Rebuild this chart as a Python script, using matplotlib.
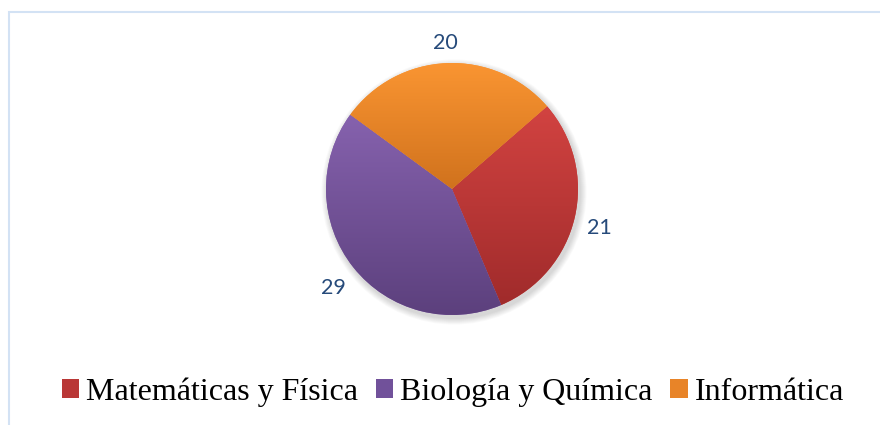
import matplotlib

matplotlib.use("Agg")
import matplotlib.pyplot as plt
import matplotlib.transforms as mtransforms
import numpy as np
from matplotlib.colors import LinearSegmentedColormap
from matplotlib.patches import Circle, Rectangle

categories = ["Matemáticas y Física", "Biología y Química", "Informática"]
values = [21, 29, 20]
top_colors = ["#D24341", "#8662AE", "#FA9532"]
bottom_colors = ["#A02B2B", "#5C407D", "#D0721D"]

W, H = 880, 425
CX, CY, R = 452, H - 189, 126

fig = plt.figure(figsize=(W / 100, H / 100), dpi=100)
ax = fig.add_axes([0, 0, 1, 1])

# faint shadow under the pie
for k in range(8):
    ax.add_patch(Circle((CX + 2, CY - 3), R + 1 + k * 0.8, color="#000000", alpha=0.02, lw=0, zorder=0))

wedges, _, autotexts = ax.pie(
    values,
    center=(CX, CY),
    radius=R,
    startangle=41,
    counterclock=False,
    colors=top_colors,
    autopct=lambda p: f"{round(p * sum(values) / 100):d}",
    pctdistance=1.2,
    wedgeprops={"linewidth": 0},
    textprops={"fontsize": 15.5, "color": "#264A7A", "family": ["Lato", "DejaVu Sans"]},
)
# nudge the value labels down a little
shift = mtransforms.ScaledTranslation(0, -5 / 100, fig.dpi_scale_trans)
for t in autotexts:
    t.set_transform(t.get_transform() + shift)

# vertical gradient fill in each slice
for w, c_top, c_bot in zip(wedges, top_colors, bottom_colors):
    angles = np.radians(np.linspace(w.theta1, w.theta2, 200))
    ys = np.concatenate([CY + R * np.sin(angles), [CY]])
    xs = np.concatenate([CX + R * np.cos(angles), [CX]])
    cmap = LinearSegmentedColormap.from_list("g", [c_bot, c_top])
    grad = np.linspace(0, 1, 256).reshape(-1, 1)
    im = ax.imshow(
        grad,
        cmap=cmap,
        origin="lower",
        aspect="auto",
        extent=(xs.min(), xs.max(), ys.min(), ys.max()),
        zorder=w.get_zorder() + 0.1,
    )
    im.set_clip_path(w)

ax.set_xlim(0, W)
ax.set_ylim(0, H)
ax.set_aspect("equal")
ax.axis("off")

# light chart frame
fig.add_artist(Rectangle((9 / W, -0.1), 1.2, (H - 12) / H + 0.1, transform=fig.transFigure,
                         fill=False, edgecolor="#D3E2F4", linewidth=1.5))

handles = [Rectangle((0, 0), 1, 1, facecolor=c, edgecolor="none") for c in
           ["#B93736", "#71519A", "#E88428"]]
fig.legend(
    handles,
    categories,
    loc="center",
    bbox_to_anchor=(453 / W, 1 - 392 / H),
    ncol=3,
    frameon=False,
    prop={"family": "Liberation Serif", "size": 23},
    handlelength=0.55,
    handleheight=0.55,
    handletextpad=0.22,
    columnspacing=0.55,
    borderpad=0,
)

fig.savefig("out.png", dpi=100)
